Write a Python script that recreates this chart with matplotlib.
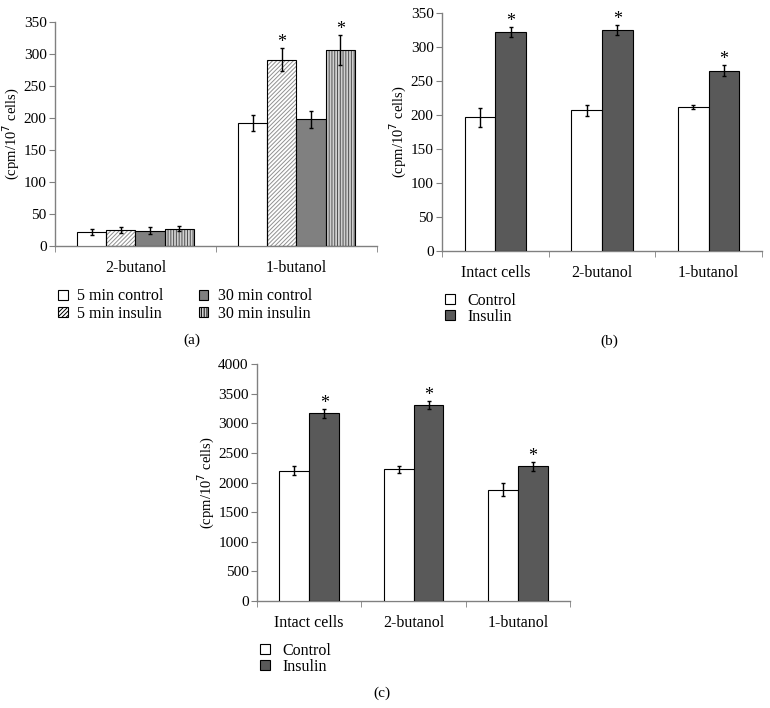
import numpy as np
import matplotlib
matplotlib.use('Agg')
import matplotlib.pyplot as plt
from matplotlib.patches import Patch

plt.rcParams['font.family'] = ['Liberation Serif', 'DejaVu Serif']
plt.rcParams['font.size'] = 11
plt.rcParams['hatch.linewidth'] = 0.7

# panel (a)
a_groups = ['2-butanol', '1-butanol']
a_series = ['5 min control', '5 min insulin', '30 min control', '30 min insulin']
a_vals = [[22, 192], [25, 291], [24, 198], [27, 306]]
a_errs = [[4, 12], [4, 18], [5, 13], [4, 23]]
a_star = [[False, False], [False, True], [False, False], [False, True]]

# panels (b) and (c)
bc_groups = ['Intact cells', '2-butanol', '1-butanol']
bc_series = ['Control', 'Insulin']
b_vals = [[197, 207, 212], [322, 325, 265]]
b_errs = [[14, 8, 3], [7, 7, 8]]
c_vals = [[2200, 2220, 1875], [3165, 3310, 2275]]
c_errs = [[80, 60, 110], [70, 65, 75]]
bc_star = [[False, False, False], [True, True, True]]

DARK = '#595959'
MID = '#808080'
AXC = '#808080'


def style_axis(ax, labels, ymax, ystep):
    ncat = len(labels)
    for s in ['top', 'right']:
        ax.spines[s].set_visible(False)
    for s in ['left', 'bottom']:
        ax.spines[s].set_color(AXC)
        ax.spines[s].set_linewidth(1.0)
    ax.set_xlim(-0.5, ncat - 0.5)
    ax.set_ylim(0, ymax)
    ax.set_yticks(np.arange(0, ymax + 1, ystep))
    ax.set_xticks(np.arange(ncat))
    ax.set_xticklabels(labels, fontsize=11.5)
    ax.set_xticks(np.arange(ncat + 1) - 0.5, minor=True)
    ax.tick_params(axis='x', which='major', length=0, pad=10)
    ax.tick_params(axis='x', which='minor', length=4, color=AXC, direction='out')
    ax.tick_params(axis='y', length=4, color=AXC, direction='out', pad=2)
    ax.set_ylabel('(cpm/10$^7$ cells)', labelpad=1, fontsize=10.5)


def draw_bars(ax, vals, errs, stars, styles, width, ymax):
    n = len(vals)
    x = np.arange(len(vals[0]))
    for i in range(n):
        pos = x + (i - (n - 1) / 2) * width
        fc, hatch, hc = styles[i]
        if hatch:
            ax.bar(pos, vals[i], width, color=fc, edgecolor=hc, hatch=hatch, linewidth=0, zorder=2)
            ax.bar(pos, vals[i], width, fill=False, edgecolor='black', linewidth=0.8, zorder=3)
        else:
            ax.bar(pos, vals[i], width, color=fc, edgecolor='black', linewidth=0.8, zorder=3)
        ax.errorbar(pos, vals[i], yerr=errs[i], fmt='none', ecolor='black',
                    elinewidth=1.0, capsize=1.5, capthick=1.0, zorder=4)
        for j in range(len(pos)):
            if stars[i][j]:
                ax.text(pos[j], vals[i][j] + errs[i][j] - ymax * 0.012, '*',
                        ha='center', va='bottom', fontsize=13)


fig = plt.figure(figsize=(7.7, 7.08), dpi=100)

ax_a = fig.add_axes([0.0714, 0.6525, 0.4182, 0.3164])
style_axis(ax_a, a_groups, 350, 50)
a_styles = [('white', None, None), ('white', '////////', '#909090'),
            (MID, None, None), ('#d0d0d0', '||||||', '#505050')]
draw_bars(ax_a, a_vals, a_errs, a_star, a_styles, 0.182, 350)
a_handles = []
for (fc, hatch, hc), lab in zip(a_styles, a_series):
    a_handles.append(Patch(facecolor=fc, edgecolor='black', hatch=hatch, linewidth=0.8, label=lab))
ax_a.legend(handles=a_handles, ncol=2,
            loc='upper left', bbox_to_anchor=(-0.035, -0.125), frameon=False,
            handlelength=0.6, handleheight=0.6, handletextpad=0.6, columnspacing=2.2,
            labelspacing=0.1, fontsize=11.5)
fig.text(0.249, 0.52, '(a)', ha='center', va='center', fontsize=11)

bc_styles = [('white', None, None), (DARK, None, None)]

ax_b = fig.add_axes([0.574, 0.6455, 0.4156, 0.3361])
style_axis(ax_b, bc_groups, 350, 50)
draw_bars(ax_b, b_vals, b_errs, bc_star, bc_styles, 0.287, 350)
b_handles = [Patch(facecolor=fc, edgecolor='black', linewidth=0.8, label=lab)
             for (fc, h, hc), lab in zip(bc_styles, bc_series)]
ax_b.legend(handles=b_handles, loc='upper left', bbox_to_anchor=(-0.035, -0.115), frameon=False,
            handlelength=0.6, handleheight=0.6, handletextpad=0.8, labelspacing=0.0, fontsize=11.5)
fig.text(0.791, 0.518, '(b)', ha='center', va='center', fontsize=11)

ax_c = fig.add_axes([0.3338, 0.1511, 0.4065, 0.3348])
style_axis(ax_c, bc_groups, 4000, 500)
draw_bars(ax_c, c_vals, c_errs, bc_star, bc_styles, 0.287, 4000)
ax_c.legend(handles=b_handles, loc='upper left', bbox_to_anchor=(-0.035, -0.115), frameon=False,
            handlelength=0.6, handleheight=0.6, handletextpad=0.8, labelspacing=0.0, fontsize=11.5)
fig.text(0.496, 0.021, '(c)', ha='center', va='center', fontsize=11)

fig.savefig('out.png', dpi=100, facecolor='white')
